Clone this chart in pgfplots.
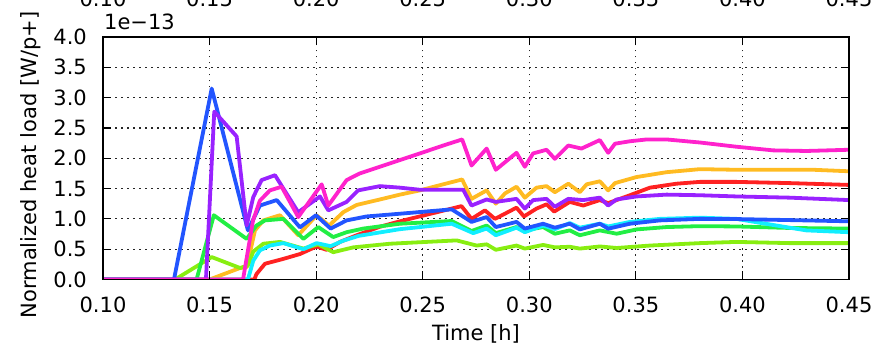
\documentclass[border=0pt]{standalone}
\usepackage{fontspec}
\setmainfont{DejaVu Sans}
\usepackage{pgfplots}
\pgfplotsset{compat=1.18}
\definecolor{cRed}{HTML}{FF2222}
\definecolor{cOrange}{HTML}{FFBB22}
\definecolor{cLime}{HTML}{88EE11}
\definecolor{cGreen}{HTML}{22EE44}
\definecolor{cCyan}{HTML}{11EEFF}
\definecolor{cBlue}{HTML}{2255FF}
\definecolor{cPurple}{HTML}{9922FF}
\definecolor{cMagenta}{HTML}{FF22CC}
\pgfplotsset{
  base/.style={
    at={(103pt,68.5pt)}, anchor=south west, scale only axis,
    width=746pt, height=242.5pt,
    xmin=0.1, xmax=0.45, ymin=0, ymax=4,
    xtick={0.10,0.15,0.20,0.25,0.30,0.35,0.40,0.45},
    ytick={0,0.5,1,1.5,2,2.5,3,3.5,4},
    font=\fontsize{21}{25}\selectfont,
    /pgf/number format/assume math mode=true,
    xticklabel style={/pgf/number format/.cd, fixed, fixed zerofill, precision=2, /tikz/.cd, inner sep=0pt},
    yticklabel style={/pgf/number format/.cd, fixed, fixed zerofill, precision=1, /tikz/.cd, inner sep=0pt},
  }
}
\begin{document}
\begin{tikzpicture}[x=1pt,y=1pt]
\begin{axis}[base,
  axis line style={draw=none},
  major tick length=0pt,
  grid=major,
  major grid style={black!85, line width=1.2pt, dash pattern=on 1.6pt off 4.4pt},
  xticklabel style={anchor=north, yshift=-17pt},
  yticklabel style={anchor=east, xshift=-16pt},
  xlabel={Time [h]},
  xlabel style={at={(axis description cs:0.5,-0.1856)}, anchor=north, inner sep=0pt},
  ylabel={Normalized heat load [W/p+]},
  ylabel style={at={(axis description cs:-0.1113,0.472)}, anchor=north, inner sep=0pt},
  no markers,
  every axis plot/.append style={line width=3.8pt, line join=round},
]
\addplot[cRed] coordinates {(0.10,0) (0.171,0) (0.172,0.09) (0.176,0.26) (0.1846,0.34) (0.1924,0.42) (0.2002,0.545) (0.2049,0.49) (0.2112,0.62) (0.219,0.73) (0.2299,0.87) (0.2393,0.96) (0.2682,1.21) (0.2729,1.0) (0.2792,1.14) (0.2839,1.0) (0.294,1.185) (0.2975,1.04) (0.3034,1.17) (0.3081,1.24) (0.3117,1.12) (0.319,1.28) (0.3253,1.22) (0.3331,1.31) (0.337,1.26) (0.3472,1.39) (0.3566,1.515) (0.369,1.58) (0.38,1.61) (0.3972,1.61) (0.4222,1.59) (0.45,1.56)};
\addplot[cOrange] coordinates {(0.10,0) (0.150,0) (0.1643,0.19) (0.1674,0.2) (0.1713,0.81) (0.1752,0.975) (0.183,1.06) (0.1916,0.73) (0.2002,1.06) (0.2061,0.89) (0.2127,1.11) (0.219,1.23) (0.2299,1.32) (0.2393,1.40) (0.2487,1.47) (0.2596,1.57) (0.2685,1.65) (0.2729,1.33) (0.28,1.47) (0.2843,1.25) (0.2886,1.42) (0.294,1.53) (0.2979,1.35) (0.3034,1.515) (0.3081,1.54) (0.312,1.44) (0.3183,1.58) (0.3237,1.44) (0.3269,1.57) (0.3331,1.62) (0.337,1.47) (0.3402,1.59) (0.3503,1.69) (0.3644,1.77) (0.38,1.82) (0.3972,1.81) (0.4332,1.81) (0.45,1.785)};
\addplot[cLime] coordinates {(0.10,0) (0.1338,0) (0.151,0.37) (0.1643,0.19) (0.168,0.23) (0.1705,0.46) (0.1752,0.59) (0.183,0.62) (0.194,0.51) (0.201,0.58) (0.208,0.45) (0.2174,0.53) (0.2346,0.59) (0.2659,0.645) (0.2753,0.56) (0.28,0.58) (0.2843,0.49) (0.294,0.56) (0.2979,0.51) (0.3065,0.57) (0.312,0.53) (0.319,0.54) (0.3237,0.51) (0.3331,0.545) (0.341,0.52) (0.3566,0.56) (0.38,0.60) (0.3972,0.62) (0.4222,0.60) (0.45,0.60)};
\addplot[cGreen] coordinates {(0.10,0) (0.1439,0) (0.152,1.06) (0.1674,0.67) (0.172,0.89) (0.176,0.975) (0.1846,1.0) (0.194,0.67) (0.201,0.865) (0.208,0.70) (0.2143,0.78) (0.2221,0.84) (0.2393,0.92) (0.2636,0.965) (0.2729,0.80) (0.28,0.89) (0.2843,0.765) (0.294,0.865) (0.2979,0.81) (0.3065,0.865) (0.312,0.755) (0.319,0.81) (0.3237,0.73) (0.3331,0.81) (0.341,0.755) (0.3503,0.826) (0.3644,0.865) (0.38,0.88) (0.3972,0.875) (0.4222,0.85) (0.45,0.84)};
\addplot[cCyan] coordinates {(0.10,0) (0.168,0) (0.1705,0.31) (0.1736,0.48) (0.1783,0.56) (0.1846,0.60) (0.194,0.50) (0.2002,0.60) (0.2068,0.55) (0.2127,0.64) (0.22,0.72) (0.2393,0.83) (0.2636,0.92) (0.2737,0.765) (0.28,0.84) (0.2843,0.73) (0.294,0.855) (0.2979,0.78) (0.3065,0.89) (0.312,0.83) (0.319,0.93) (0.3237,0.855) (0.3331,0.92) (0.337,0.875) (0.3472,0.95) (0.3613,1.0) (0.38,1.02) (0.3972,1.0) (0.416,0.89) (0.43,0.81) (0.45,0.78)};
\addplot[cBlue] coordinates {(0.10,0) (0.1333,0) (0.151,3.15) (0.168,0.81) (0.1736,1.22) (0.1815,1.31) (0.1924,0.86) (0.1999,1.06) (0.2068,0.84) (0.2143,0.975) (0.2237,1.04) (0.2393,1.085) (0.2636,1.157) (0.2729,0.95) (0.28,1.03) (0.2843,0.865) (0.294,0.95) (0.2979,0.84) (0.3065,0.92) (0.312,0.855) (0.319,0.92) (0.3237,0.826) (0.3331,0.92) (0.337,0.838) (0.3472,0.92) (0.3613,0.975) (0.38,1.0) (0.3972,0.997) (0.4222,0.98) (0.45,0.96)};
\addplot[cPurple] coordinates {(0.10,0) (0.1483,0) (0.1522,2.77) (0.1627,2.36) (0.1674,0.89) (0.1705,1.36) (0.1744,1.64) (0.1807,1.72) (0.1916,1.11) (0.2018,1.37) (0.2057,1.14) (0.2143,1.28) (0.2197,1.47) (0.2299,1.54) (0.2393,1.515) (0.2487,1.48) (0.269,1.48) (0.2729,1.22) (0.28,1.32) (0.2843,1.28) (0.294,1.33) (0.2979,1.17) (0.3018,1.31) (0.3081,1.33) (0.312,1.2) (0.3183,1.33) (0.3253,1.31) (0.3331,1.35) (0.337,1.22) (0.3409,1.32) (0.3503,1.37) (0.3644,1.40) (0.38,1.39) (0.3972,1.37) (0.4222,1.35) (0.45,1.31)};
\addplot[cMagenta] coordinates {(0.10,0) (0.1657,0) (0.1704,0.975) (0.1736,1.3) (0.1783,1.47) (0.1838,1.53) (0.1916,1.03) (0.2026,1.57) (0.2057,1.22) (0.2143,1.64) (0.2205,1.75) (0.2299,1.86) (0.2393,1.97) (0.2487,2.08) (0.2596,2.21) (0.2685,2.31) (0.2729,1.88) (0.28,2.16) (0.2843,1.81) (0.294,2.09) (0.2979,1.86) (0.3018,2.08) (0.3081,2.14) (0.312,1.99) (0.3183,2.21) (0.3245,2.16) (0.3331,2.30) (0.337,2.09) (0.3402,2.24) (0.3472,2.28) (0.355,2.31) (0.3644,2.31) (0.38,2.26) (0.3972,2.19) (0.4144,2.13) (0.43,2.12) (0.45,2.14)};
\end{axis}
\begin{axis}[base,
  axis line style={line width=1.8pt},
  tick align=inside, major tick length=8pt,
  tick style={black, line width=1.2pt},
  xticklabel pos=right,
  xticklabel style={anchor=south, yshift=30pt},
  yticklabels={},
]
\end{axis}
\node[anchor=south west, inner sep=0pt, font=\fontsize{21}{25}\selectfont] at (104,318) {1e−13};
\pgfresetboundingbox
\useasboundingbox (0,0) rectangle (877,348);
\end{tikzpicture}
\end{document}
